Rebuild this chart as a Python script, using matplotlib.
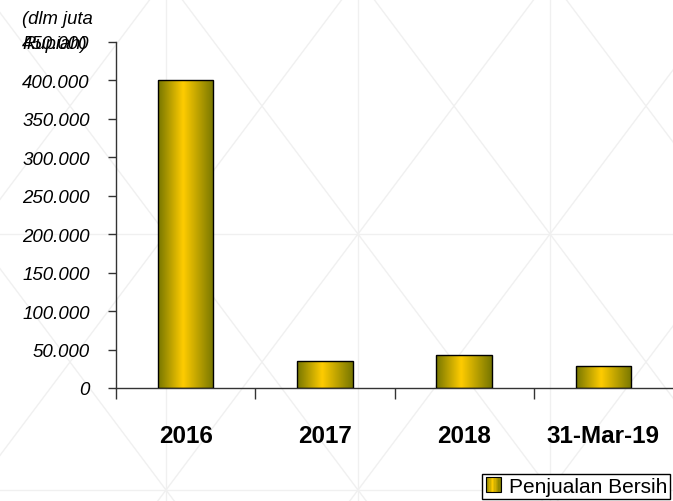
import numpy as np
import matplotlib
matplotlib.use("Agg")
import matplotlib.pyplot as plt
from matplotlib.colors import LinearSegmentedColormap
from matplotlib.patches import Rectangle
from matplotlib.legend_handler import HandlerBase
from matplotlib.ticker import FuncFormatter, FixedLocator

categories = ["2016", "2017", "2018", "31-Mar-19"]
penjualan_bersih = [401000, 35000, 43000, 28500]
y_ticks = [0, 50000, 100000, 150000, 200000, 250000, 300000, 350000, 400000, 450000]
series_label = "Penjualan Bersih"
y_label = "(dlm juta\nRupiah)"

FONT = "Liberation Sans"
W, H = 673, 502

gold = LinearSegmentedColormap.from_list(
    "gold", [(0.0, "#767600"), (0.45, "#ffcc00"), (1.0, "#767600")]
)


class GradientHandler(HandlerBase):
    # legend key drawn as a small square with the same horizontal gradient
    def create_artists(self, legend, orig_handle, xdescent, ydescent,
                       width, height, fontsize, trans):
        side = min(width, height)
        x0, y0 = -xdescent, -ydescent + (height - side) / 2
        n = 12
        arts = []
        for i in range(n):
            r = Rectangle((x0 + side * i / n, y0), side / n + 0.1, side,
                          facecolor=gold((i + 0.5) / n), edgecolor="none",
                          transform=trans)
            arts.append(r)
        arts.append(Rectangle((x0, y0), side, side, facecolor="none",
                              edgecolor="black", lw=0.8, transform=trans))
        return arts


fig = plt.figure(figsize=(W / 100, H / 100), dpi=100)

# faint triangle watermark behind the chart
bg = fig.add_axes([0, 0, 1, 1], zorder=-1)
bg.set_xlim(0, W)
bg.set_ylim(H, 0)
bg.axis("off")
wm = "#f0f0f0"
ys = np.array([-20, H + 20])
for k in range(-4, 7):
    xv = 166 + 192 * k
    bg.plot(xv + (ys - 235) * 0.75, ys, color=wm, lw=1)
    bg.plot(xv - (ys - 235) * 0.75, ys, color=wm, lw=1)
    bg.plot([xv, xv], ys, color=wm, lw=1)
for yh in (235, 491):
    bg.plot([0, W], [yh, yh], color=wm, lw=1)

ax = fig.add_axes([116 / W, 1 - 389 / H, 557 / W, 346 / H])
ax.patch.set_alpha(0)

x = np.arange(len(categories))
bars = ax.bar(x, penjualan_bersih, width=0.4, facecolor="none",
              edgecolor="black", lw=1, zorder=3)
grad = np.linspace(0, 1, 256).reshape(1, -1)
for b in bars:
    bx, by = b.get_x(), b.get_y()
    im = ax.imshow(grad, cmap=gold, aspect="auto", interpolation="bicubic",
                   extent=[bx, bx + b.get_width(), by, by + b.get_height()],
                   zorder=2)
    im.set_clip_path(b)

ax.set_xlim(-0.5, len(categories) - 0.5)
ax.set_ylim(0, y_ticks[-1])

for s in ("top", "right"):
    ax.spines[s].set_visible(False)
for s in ("left", "bottom"):
    ax.spines[s].set_color("#333333")
    ax.spines[s].set_linewidth(1)

ax.yaxis.set_major_locator(FixedLocator(y_ticks))
ax.yaxis.set_major_formatter(
    FuncFormatter(lambda v, p: f"{v:,.0f}".replace(",", "."))
)
ax.tick_params(axis="y", direction="out", length=6, width=1,
               color="#333333", pad=13)
for t in ax.get_yticklabels():
    t.set_family(FONT)
    t.set_style("italic")
    t.set_fontsize(13.5)

# category boundaries carry the tick marks, labels sit in between
ax.xaxis.set_major_locator(FixedLocator(np.arange(len(categories)) - 0.5))
ax.set_xticklabels([])
ax.set_xticks(x, categories, minor=True)
ax.tick_params(axis="x", which="major", direction="out", length=8,
               width=1, color="#333333")
ax.tick_params(axis="x", which="minor", length=0, pad=26)
for t in ax.get_xticklabels(minor=True):
    t.set_family(FONT)
    t.set_weight("bold")
    t.set_fontsize(17.5)

fig.text(22 / W, 1 - 11 / H, y_label, ha="left", va="top",
         family=FONT, style="italic", fontsize=13.3, linespacing=1.6)

proxy = Rectangle((0, 0), 1, 1)
leg = fig.legend([proxy], [series_label], handler_map={proxy: GradientHandler()},
                 loc="lower right", bbox_to_anchor=(670 / W, 2 / H),
                 fancybox=False, edgecolor="black", framealpha=1,
                 borderpad=0.15, handlelength=0.75, handleheight=0.75,
                 handletextpad=0.35, borderaxespad=0,
                 prop={"family": FONT, "size": 15})
leg.get_frame().set_linewidth(1)

fig.savefig("out.png", dpi=100)
